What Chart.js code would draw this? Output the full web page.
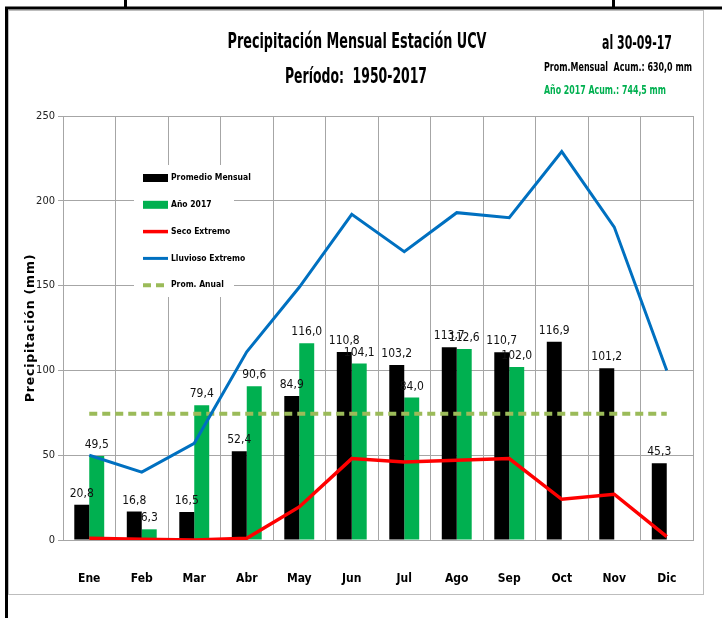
<!DOCTYPE html>
<html>
<head>
<meta charset="utf-8">
<script src="https://cdn.jsdelivr.net/npm/chart.js@4.4.1/dist/chart.umd.min.js"></script>
<style>
  html, body { margin: 0; padding: 0; background: #fff; }
  #wrap { width: 722px; height: 618px; }
</style>
</head>
<body>
<div id="wrap"><canvas id="grafico" width="722" height="618"></canvas></div>
<script>
const meses = ["Ene", "Feb", "Mar", "Abr", "May", "Jun", "Jul", "Ago", "Sep", "Oct", "Nov", "Dic"]
const promedioMensual = [20.8, 16.8, 16.5, 52.4, 84.9, 110.8, 103.2, 113.7, 110.7, 116.9, 101.2, 45.3]
const anio2017 = [49.5, 6.3, 79.4, 90.6, 116.0, 104.1, 84.0, 112.6, 102.0, null, null, null]
const secoExtremo = [1.0, 0.5, 0.0, 1.0, 19.5, 48.0, 46.0, 47.0, 48.0, 24.0, 27.0, 2.0]
const lluviosoExtremo = [50.0, 40.0, 57.0, 111.0, 149.0, 192.0, 170.0, 193.0, 190.0, 229.0, 184.5, 100.0]
const promAnual = [74.4, 74.4, 74.4, 74.4, 74.4, 74.4, 74.4, 74.4, 74.4, 74.4, 74.4, 74.4]
const yMin = 0
const yMax = 250
const yPaso = 50

const NARROW = "'Liberation Sans Narrow', 'DejaVu Sans Condensed', sans-serif"

// texto con ancho forzado (imita la fuente condensada de Excel)
function texto(ctx, s, x, y, font, color, ancho, align) {
    ctx.save()
    ctx.font = font
    ctx.fillStyle = color
    ctx.textBaseline = "middle"
    ctx.textAlign = align || "left"
    const m = ctx.measureText(s).width
    const sx = ancho ? ancho / m : 1
    ctx.translate(x, y)
    ctx.scale(sx, 1)
    ctx.fillText(s, 0, 0)
    ctx.restore()
}

const marco = {
    id: "marco",
    beforeDraw(chart) {
        const ctx = chart.ctx
        ctx.save()
        ctx.fillStyle = "#fff"
        ctx.fillRect(0, 0, chart.width, chart.height)
        ctx.strokeStyle = "#bdbdbd"
        ctx.lineWidth = 1
        ctx.strokeRect(8.5, 10.5, 695, 584)
        ctx.strokeStyle = "#000"
        ctx.lineWidth = 3
        ctx.beginPath()
        ctx.moveTo(6.5, 618); ctx.lineTo(6.5, 8); ctx.lineTo(722, 8)
        ctx.moveTo(125.5, 0); ctx.lineTo(125.5, 8)
        ctx.moveTo(613.5, 0); ctx.lineTo(613.5, 8)
        ctx.stroke()
        ctx.restore()
    },
    afterDraw(chart) {
        const ctx = chart.ctx
        texto(ctx, "Precipitación Mensual Estación UCV", 357, 42, "bold 22px " + NARROW, "#000", 259, "center")
        texto(ctx, "Período:  1950-2017", 356, 77, "bold 22px " + NARROW, "#000", 142, "center")
        texto(ctx, "al 30-09-17", 602, 44, "bold 19px " + NARROW, "#000", 70)
        texto(ctx, "Prom.Mensual  Acum.: 630,0 mm", 544, 68, "bold 13px " + NARROW, "#000", 148)
        texto(ctx, "Año 2017 Acum.: 744,5 mm", 544, 91, "bold 13px " + NARROW, "#00B050", 122)
        // titulo eje y
        ctx.save()
        ctx.translate(31, 328)
        ctx.rotate(-Math.PI / 2)
        ctx.font = "bold 12.5px 'DejaVu Sans', Verdana, sans-serif"
        ctx.letterSpacing = "0.8px"
        ctx.fillStyle = "#000"
        ctx.textAlign = "center"
        ctx.textBaseline = "middle"
        ctx.fillText("Precipitación (mm)", 0, 0)
        ctx.restore()
    }
}

const etiquetas = {
    id: "etiquetas",
    afterDatasetsDraw(chart) {
        const ctx = chart.ctx
        ctx.save()
        ctx.font = "12px " + NARROW
        ctx.fillStyle = "#111"
        ctx.textAlign = "center"
        ctx.textBaseline = "bottom"
        chart.data.datasets.forEach((ds, i) => {
            if (ds.type !== "bar") return
            chart.getDatasetMeta(i).data.forEach((el, j) => {
                const v = ds.data[j]
                if (v === null) return
                ctx.fillText(v.toFixed(1).replace(".", ","), el.x, el.y - 5)
            })
        })
        ctx.restore()
    }
}

const leyenda = {
    id: "leyenda",
    afterDatasetsDraw(chart) {
        const ctx = chart.ctx
        ctx.save()
        ctx.fillStyle = "#fff"
        ctx.fillRect(134, 165, 100, 132)
        chart.data.datasets.forEach((ds, i) => {
            const y = 178 + i * 26.8
            if (ds.type === "bar") {
                ctx.fillStyle = ds.backgroundColor
                ctx.fillRect(143, y - 4, 25, 8)
            } else {
                ctx.strokeStyle = ds.borderColor
                ctx.lineWidth = ds.borderWidth
                ctx.setLineDash(ds.borderDash || [])
                ctx.beginPath()
                ctx.moveTo(143, y); ctx.lineTo(168, y)
                ctx.stroke()
                ctx.setLineDash([])
            }
            ctx.font = "bold 8.5px " + NARROW
            ctx.fillStyle = "#000"
            ctx.textBaseline = "middle"
            ctx.fillText(ds.label, 171, y)
        })
        ctx.restore()
    }
}

const datasets = [
    { type: "bar", label: "Promedio Mensual", data: promedioMensual, backgroundColor: "#000000", order: 2,
      categoryPercentage: 0.57, barPercentage: 1.0 },
    { type: "bar", label: "Año 2017", data: anio2017, backgroundColor: "#00B050", order: 2,
      categoryPercentage: 0.57, barPercentage: 1.0 },
    { type: "line", label: "Seco Extremo", data: secoExtremo, borderColor: "#FF0000", borderWidth: 3.5,
      pointRadius: 0, tension: 0, order: 1 },
    { type: "line", label: "Lluvioso Extremo", data: lluviosoExtremo, borderColor: "#0070C0", borderWidth: 3,
      pointRadius: 0, tension: 0, order: 1 },
    { type: "line", label: "Prom. Anual", data: promAnual, borderColor: "#9BBB59", borderWidth: 4,
      borderDash: [8, 5], pointRadius: 0, tension: 0, order: 1 }
]

const config = {
    type: "bar",
    data: { labels: meses, datasets },
    options: {
        responsive: false,
        animation: false,
        devicePixelRatio: 1,
        layout: { padding: { top: 116, left: 0, right: 29, bottom: 0 } },
        plugins: { legend: { display: false }, tooltip: { enabled: false } },
        scales: {
            x: {
                offset: true,
                grid: { offset: true, color: "#a6a6a6", drawTicks: false },
                border: { color: "#a6a6a6" },
                ticks: { color: "#000", font: { family: NARROW, size: 12, weight: "bold" }, padding: 32 },
                afterFit(scale) { scale.height = 78 }
            },
            y: {
                min: yMin, max: yMax,
                grid: { color: "#a6a6a6", tickLength: 5 },
                border: { color: "#a6a6a6" },
                ticks: { stepSize: yPaso, color: "#222", font: { family: NARROW, size: 11 }, padding: 3 },
                afterFit(scale) { scale.width = 63 }
            }
        }
    },
    plugins: [marco, etiquetas, leyenda]
}

const chart = document.getElementById("grafico")
new Chart(chart, config)
</script>
</body>
</html>
